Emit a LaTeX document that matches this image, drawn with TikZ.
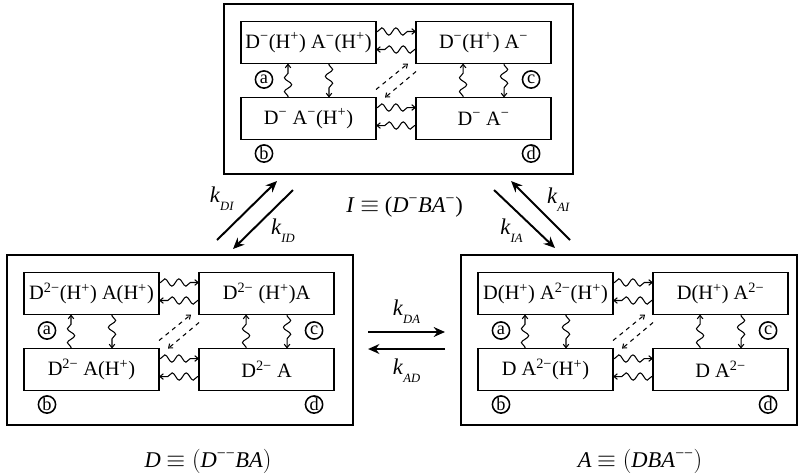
\documentclass[tikz,border=0pt]{standalone}
\usepackage{fontspec}
\setmainfont{Liberation Serif}
\usetikzlibrary{arrows.meta,positioning,decorations.pathmorphing}

\newcommand{\Hp}{(H\textsuperscript{+})}
\newcommand{\Mi}{\textsuperscript{−}}
\newcommand{\Mii}{\textsuperscript{2−}}
\newcommand{\rate}[1]{\textit{k}\raisebox{-0.8ex}{\fontsize{9}{9}\selectfont\textit{#1}}}

\tikzset{
  outerbox/.style={draw, line width=2pt, minimum height=4.25cm, outer sep=0pt, anchor=north west},
  statebox/.style={draw, line width=1.3pt, minimum width=3.375cm, minimum height=1.05cm,
    inner sep=1pt, outer sep=0pt, font=\fontsize{14.5}{16}\selectfont},
  tag/.style={draw, circle, line width=1.1pt, minimum size=0.43cm, inner sep=0pt,
    font=\fontsize{13}{13}\selectfont},
  wave/.style={decorate, decoration={snake, amplitude=2.6pt, segment length=10pt,
    pre length=1pt, post length=2.5pt}, line width=0.75pt, -{Straight Barb[length=2.5pt,width=4pt]}},
  hop/.style={dashed, line width=0.75pt, -{Straight Barb[length=2.5pt,width=4pt]}},
  bigarrow/.style={line width=1.4pt, -{Stealth[length=8pt,width=7pt]}},
  ratelbl/.style={font=\fontsize{16}{18}\selectfont},
}

% one group of four states: name, corner, width, labels a b c d
\newcommand{\stategroup}[7]{%
  \node[outerbox, minimum width=#3] (#1) at #2 {};
  \node[statebox, anchor=north west] (#1a) at ([shift={(17,17.5)}]#1.north west) {#4};
  \node[statebox, right=1cm of #1a] (#1c) {#6};
  \node[statebox, below=0.85cm of #1a] (#1b) {#5};
  \node[statebox, right=1cm of #1b] (#1d) {#7};
  \node[tag] (#1ta) at ([shift={(23,16)}]#1a.south west) {a};
  \node[tag] (#1tc) at ([shift={(-20,16)}]#1c.south east) {c};
  \node[tag] (#1tb) at ([shift={(23,14)}]#1b.south west) {b};
  \node[tag] (#1td) at ([shift={(-20,14)}]#1d.south east) {d};
  % horizontal
  \draw[wave] ([shift={(0,-11)}]#1a.east) -- ([shift={(0,-11)}]#1c.west);
  \draw[wave] ([shift={(0,7)}]#1c.west) -- ([shift={(0,7)}]#1a.east);
  \draw[wave] ([shift={(0,-11)}]#1b.east) -- ([shift={(0,-11)}]#1d.west);
  \draw[wave] ([shift={(0,7)}]#1d.west) -- ([shift={(0,7)}]#1b.east);
  % vertical
  \draw[wave] ([shift={(-20.5,0)}]#1b.north) -- ([shift={(-20.5,0)}]#1a.south);
  \draw[wave] ([shift={(20.5,0)}]#1a.south) -- ([shift={(20.5,0)}]#1b.north);
  \draw[wave] ([shift={(-20.5,0)}]#1d.north) -- ([shift={(-20.5,0)}]#1c.south);
  \draw[wave] ([shift={(20.5,0)}]#1c.south) -- ([shift={(20.5,0)}]#1d.north);
  % diagonal
  \draw[hop] ([shift={(0,-8)}]#1b.north east) -- ([shift={(-8,0)}]#1c.south west);
  \draw[hop] ([shift={(0,8)}]#1c.south west) -- ([shift={(9,0)}]#1b.north east);
}

\begin{document}
\begin{tikzpicture}[x=0.025cm, y=-0.025cm]
\useasboundingbox (0,0) rectangle (798,474);

\stategroup{I}{(224,4)}{8.725cm}{D\Mi\Hp{} A\Mi\Hp}{D\Mi{} A\Mi\Hp}{D\Mi\Hp{} A\Mi}{D\Mi{} A\Mi}
\stategroup{D}{(7,255)}{8.65cm}{D\Mii\Hp{} A\Hp}{D\Mii{} A\Hp}{D\Mii{} (H\textsuperscript{+})A}{D\Mii{} A}
\stategroup{A}{(461,255)}{8.4cm}{D\Hp{} A\Mii\Hp}{D A\Mii\Hp}{D\Hp{} A\Mii}{D A\Mii}

% rates
\draw[bigarrow] ([shift={(210,-15)}]D.north west) -- node[ratelbl, shift={(-25,-12)}] {\rate{DI}} ([shift={(53,7)}]I.south west);
\draw[bigarrow] ([shift={(69,16)}]I.south west) -- node[ratelbl, shift={(20,11)}] {\rate{ID}} ([shift={(226,-6)}]D.north west);
\draw[bigarrow] ([shift={(-79,16)}]I.south east) -- node[ratelbl, shift={(-13,12)}] {\rate{IA}} ([shift={(94,-7)}]A.north west);
\draw[bigarrow] ([shift={(109,-15)}]A.north west) -- node[ratelbl, shift={(18,-11)}] {\rate{AI}} ([shift={(-62,7)}]I.south east);
\draw[bigarrow] ([shift={(15,77)}]D.north east) -- node[ratelbl, shift={(0,-20)}] {\rate{DA}} ([shift={(-16,77)}]A.north west);
\draw[bigarrow] ([shift={(-16,94)}]A.north west) -- node[ratelbl, shift={(0,22)}] {\rate{AD}} ([shift={(15,94)}]D.north east);

\node[ratelbl] (Ilbl) at ([shift={(6,33)}]I.south) {\textit{I} $\equiv$ (\textit{D}\Mi\textit{BA}\Mi)};
\node[ratelbl] (Dlbl) at ([shift={(28,36)}]D.south) {\textit{D} $\equiv\bigl($\textit{D}\textsuperscript{−−}\textit{BA}$\bigr)$};
\node[ratelbl] (Albl) at ([shift={(11,36)}]A.south) {\textit{A} $\equiv\bigl($\textit{DBA}\textsuperscript{−−}$\bigr)$};
\end{tikzpicture}
\end{document}
